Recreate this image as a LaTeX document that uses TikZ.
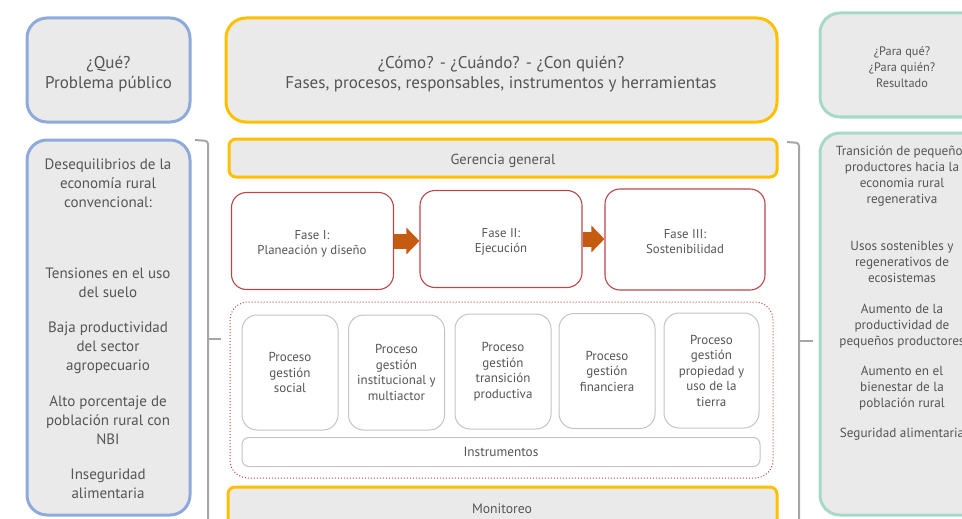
\documentclass[tikz,border=0pt]{standalone}
\usepackage{fontspec}
\setmainfont{PT Sans}
\usepackage{tikz}
\usetikzlibrary{arrows.meta, positioning}
\definecolor{queblue}{RGB}{142, 170, 219}
\definecolor{comoyellow}{RGB}{255, 192, 0}
\definecolor{paragreen}{RGB}{168, 216, 200}
\definecolor{boxgray}{RGB}{234, 234, 234}
\definecolor{faseline}{RGB}{184, 71, 74}
\definecolor{procline}{RGB}{196, 196, 196}
\definecolor{textgray}{RGB}{85, 85, 85}
\definecolor{bracegray}{RGB}{166, 166, 166}
\definecolor{flowbrown}{RGB}{197, 90, 17}

\begin{document}
\begin{tikzpicture}[
    x=1pt, y=-1pt,
    every node/.style={text=textgray, align=center, inner sep=0pt},
    head/.style={rounded corners=20pt, line width=3pt, fill=boxgray},
    headtxt/.style={font=\fontsize{17}{20}\selectfont},
    quebox/.style={head, draw=queblue},
    comobox/.style={head, draw=comoyellow},
    parabox/.style={head, draw=paragreen},
    paratxt/.style={font=\fontsize{12.3}{16}\selectfont},
    bar/.style={rounded corners=7pt, line width=3pt, draw=comoyellow, fill=boxgray},
    bartxt/.style={font=\fontsize{14.5}{16}\selectfont},
    fase/.style={rounded corners=15pt, draw=faseline, line width=1.1pt, fill=white, minimum width=162pt, minimum height=97pt},
    fasetxt/.style={font=\fontsize{12.8}{15}\selectfont},
    proceso/.style={rounded corners=15pt, draw=procline, line width=1pt, fill=white, minimum width=96pt, minimum height=115pt, font=\fontsize{13}{15.5}\selectfont},
    lefttxt/.style={font=\fontsize{15}{19}\selectfont},
    righttxt/.style={font=\fontsize{13.2}{16}\selectfont},
    flow/.style={-{Triangle[length=13pt, width=26pt]}, line width=15pt, draw=flowbrown},
    brace/.style={draw=bracegray, line width=2pt, rounded corners=3pt}
]
    \useasboundingbox (0,0) rectangle (962,519);
    \clip (0,0) rectangle (962,519);

    % Headers
    \node[quebox, minimum width=163pt, minimum height=104pt] (que) at (108.5,70) {};
    \node[headtxt] (quetxt) at (108.5,74) {¿Qué?\\Problema público};
    \node[comobox, minimum width=551pt, minimum height=104pt] (como) at (501.5,70) {};
    \node[headtxt] (comotxt) at (501,74) {¿Cómo? - ¿Cuándo? - ¿Con quién?\\Fases, procesos, responsables, instrumentos y herramientas};
    \node[parabox, minimum width=164pt, minimum height=104pt] (para) at (902,65) {};
    \node[paratxt] (paratxt) at (902,67) {¿Para qué?\\¿Para quién?\\Resultado};

    % Problema
    \node[quebox, minimum width=163pt, minimum height=375pt] (problema) at (108.5,327.5) {};
    \node[lefttxt] (deseq) at (108,183) {Desequilibrios de la\\economía rural\\convencional:};
    \node[lefttxt] (tension) at (108,283) {Tensiones en el uso\\del suelo};
    \node[lefttxt] (baja) at (108,348) {Baja productividad\\del sector\\agropecuario};
    \node[lefttxt] (alto) at (108,420) {Alto porcentaje de\\población rural con\\NBI};
    \node[lefttxt] (inseg) at (108,484) {Inseguridad\\alimentaria};

    % Resultado
    \node[parabox, minimum width=164pt, minimum height=382pt] (resultado) at (902,324) {};
    \node[righttxt] (transicion) at (902,176) {Transición de pequeños\\productores hacia la\\economia rural\\regenerativa};
    \node[righttxt] (usos) at (902,262) {Usos sostenibles y\\regenerativos de\\ecosistemas};
    \node[righttxt] (aumprod) at (902,326) {Aumento de la\\productividad de\\pequeños productores};
    \node[righttxt] (aumbien) at (902,388) {Aumento en el\\bienestar de la\\población rural};
    \node[righttxt] (segur) at (902,434) {Seguridad alimentaria};

    % Braces
    \draw[brace] (195,140) -- (208,141) -- (208,540);
    \draw[brace] (208,339) -- (221,339);
    \draw[brace] (787,142) -- (799,143) -- (799,540);
    \draw[brace] (799,341) -- (813,341);

    % Gerencia y fases
    \node[bar, minimum width=548pt, minimum height=38pt] (gerencia) at (503,158) {};
    \node[bartxt] (gerenciatxt) at (503,161) {Gerencia general};
    \node[fase] (fase1) at (312.5,241) {};
    \node[fase] (fase2) at (501,239) {};
    \node[fase, minimum width=160pt, minimum height=101pt] (fase3) at (685,239.5) {};
    \node[fasetxt] (fase1txt) at (312,244) {Fase I:\\Planeación y diseño};
    \node[fasetxt] (fase2txt) at (501,242) {Fase II:\\Ejecución};
    \node[fasetxt] (fase3txt) at (685,242) {Fase III:\\Sostenibilidad};
    \draw[flow] (fase1.east) -- (fase1.east -| fase2.west);
    \draw[flow] (fase2.east) -- (fase2.east -| fase3.west);

    % Procesos
    \draw[faseline, line width=1pt, dotted, rounded corners=18pt] (230,302) rectangle (773,478);
    \node[proceso] (social) at (290,372.5) {Proceso\\gestión\\social};
    \node[proceso] (instit) at (396.5,372.5) {Proceso\\gestión\\institucional y\\multiactor};
    \node[proceso] (transic) at (503,371.5) {Proceso\\gestión\\transición\\productiva};
    \node[proceso] (financ) at (607,371) {Proceso\\gestión\\financiera};
    \node[proceso, minimum width=95pt] (tierra) at (711.5,370.5) {Proceso\\gestión\\propiedad y\\uso de la\\tierra};
    \node[proceso, rounded corners=7pt, minimum width=518pt, minimum height=29pt, font=\fontsize{13.3}{16}\selectfont] (instrum) at (501,452) {Instrumentos};

    % Monitoreo
    \node[bar, minimum width=549pt, minimum height=50pt] (monitoreo) at (502.5,512) {};
    \node[font=\fontsize{13.7}{16}\selectfont] (montxt) at (502,509) {Monitoreo};
\end{tikzpicture}
\end{document}
